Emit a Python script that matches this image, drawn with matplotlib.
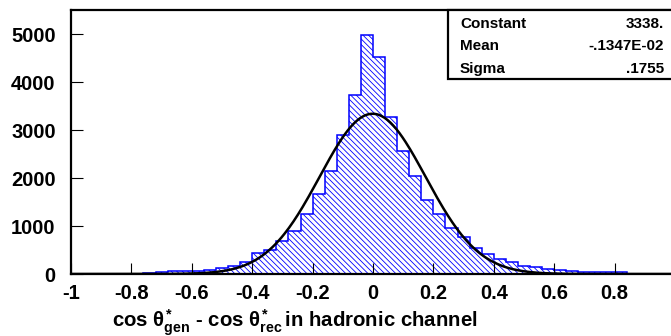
import numpy as np
import matplotlib
matplotlib.use('Agg')
import matplotlib.pyplot as plt
from matplotlib.patches import Rectangle

# bin edges: 50 bins of 0.04 between -1 and 1
edges = np.linspace(-1.0, 1.0, 51)
counts = [2, 2, 3, 3, 4, 5, 30, 35, 55, 65,
          69, 83, 118, 167, 257, 430, 500, 694, 889, 1243,
          1660, 2153, 2889, 3730, 4980, 4528, 3278, 2569, 2042, 1542,
          1243, 951, 778, 549, 410, 306, 243, 167, 139, 104,
          76, 62, 49, 42, 35, 35, 5, 4, 3, 2]

# gaussian fit result
fit_names = ['Constant', 'Mean', 'Sigma']
fit_text = ['3338.', '-.1347E-02', '.1755']
constant, mean, sigma = 3338.0, -0.1347e-02, 0.1755

xticks = [-1, -0.8, -0.6, -0.4, -0.2, 0, 0.2, 0.4, 0.6, 0.8, 1]
xtick_labels = ['-1', '-0.8', '-0.6', '-0.4', '-0.2', '0', '0.2', '0.4', '0.6', '0.8', '1']
yticks = [0, 1000, 2000, 3000, 4000, 5000]

plt.rcParams['font.family'] = ['Liberation Sans', 'DejaVu Sans']
plt.rcParams['font.weight'] = 'bold'
plt.rcParams['mathtext.fontset'] = 'custom'
plt.rcParams['mathtext.rm'] = 'Liberation Sans:bold'
plt.rcParams['mathtext.it'] = 'Liberation Sans'
plt.rcParams['mathtext.bf'] = 'Liberation Sans:bold'
plt.rcParams['hatch.linewidth'] = 0.6

W, H = 671, 336
fig = plt.figure(figsize=(W / 100, H / 100), dpi=100)
ax = fig.add_axes([71 / W, 1 - 274 / H, (675 - 71) / W, (274 - 10) / H])

centers = 0.5 * (edges[:-1] + edges[1:])
ax.hist(centers, bins=edges, weights=counts, histtype='stepfilled',
        facecolor='white', edgecolor='#0000ff', linewidth=1.1,
        hatch='\\' * 6)

xs = np.linspace(-1, 1, 400)
ax.plot(xs, constant * np.exp(-0.5 * ((xs - mean) / sigma) ** 2),
        color='black', linewidth=1.8)

ax.set_xlim(-1, 1)
ax.set_ylim(0, 5500)
ax.set_xticks(xticks)
ax.set_xticklabels(xtick_labels)
ax.set_yticks(yticks)
ax.tick_params(axis='x', direction='in', length=7.7, width=0.8, pad=7.5, labelsize=14.5)
ax.tick_params(axis='y', direction='in', length=8.4, width=0.8, pad=11, labelsize=14.5)
for s in ax.spines.values():
    s.set_linewidth(1.6)

# stats box in the upper right corner
box = Rectangle((447.7 / W, 1 - 78.7 / H), 0.5, (78.7 - 10) / H,
                transform=fig.transFigure, facecolor='white', edgecolor='black',
                linewidth=1.6, zorder=5, clip_on=False)
fig.patches.append(box)
rows_y = [27.7, 50.0, 72.7]
for name, val, yb in zip(fit_names, fit_text, rows_y):
    fig.text(460 / W, 1 - yb / H, name, ha='left', va='baseline', fontsize=11,
             fontweight='bold', zorder=6)
    fig.text(664.3 / W, 1 - yb / H, val, ha='right', va='baseline', fontsize=11,
             fontweight='bold', zorder=6)

fig.text(111.7 / W, 1 - 327 / H,
         r'cos $\theta^{*}_{\mathrm{gen}}$ - cos $\theta^{*}_{\mathrm{rec}}\,$in hadronic channel',
         ha='left', va='baseline', fontsize=14.7, fontweight='bold')

fig.savefig('out.png', dpi=100)
